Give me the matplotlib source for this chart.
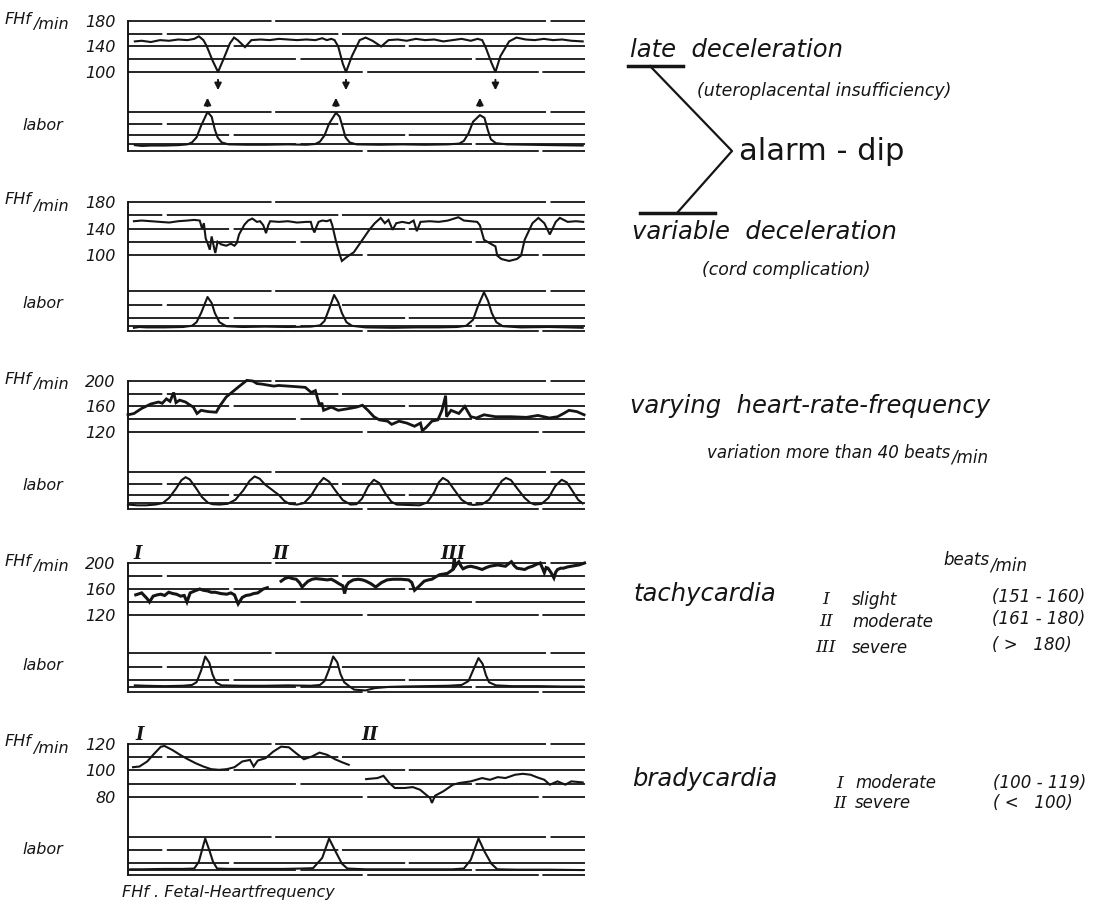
import matplotlib
matplotlib.use("Agg")
import matplotlib.pyplot as plt
from matplotlib import transforms

plt.rcParams['font.family'] = ['DejaVu Sans']

INK = '#151515'
W, H = 1098, 908
X0, X1 = 128, 585   # strip left / right edge (px)

# ---------------- traces: (time 0-100, value) ----------------
# late deceleration
fhf_late = [(1.5, 148), (3, 149), (5, 147), (7, 150), (9, 149), (11, 151), (13, 150), (14.5, 152),
            (15.5, 156), (16.5, 150), (17.2, 141), (18.5, 118), (19.7, 100), (21, 122), (22.3, 145),
            (23.2, 154), (24, 150), (25.6, 139), (27, 150), (29, 151), (31, 150), (33, 152), (35, 151),
            (37, 150), (39, 151), (41, 150), (42.5, 153), (43.5, 150), (44.5, 152), (45.2, 150),
            (46, 140), (47, 113), (47.7, 100), (49, 125), (50.7, 150), (52, 154), (53.5, 149),
            (55.4, 140), (57, 150), (59, 151), (61, 149), (63, 152), (65, 150), (67, 151), (69, 148),
            (71, 150), (73, 152), (75, 149), (76.5, 152), (77.5, 150), (78.3, 138), (79.5, 115),
            (80.4, 100), (81.5, 125), (83.4, 148), (85, 154), (87, 151), (89, 150), (91, 152),
            (93, 150), (95, 151), (97, 149), (99.5, 148)]
labor_late = [(1.5, 15), (3, 13), (5, 14), (8, 14), (11, 15), (13, 17), (14, 22), (15, 35), (16, 65),
              (17.4, 100), (18.3, 88), (19, 55), (19.6, 35), (20.5, 22), (22, 17), (26, 16), (30, 16),
              (35, 17), (39, 16), (41, 18), (42, 24), (43, 40), (44, 70), (45.5, 98), (46.3, 88),
              (47, 60), (47.6, 35), (48.5, 22), (50, 17), (55, 16), (60, 17), (65, 16), (70, 17),
              (72.5, 19), (73.5, 26), (74.5, 45), (75.5, 75), (77, 92), (78, 85), (78.7, 55),
              (79.4, 30), (80.5, 20), (83, 17), (88, 16), (93, 15), (99.5, 14)]

# variable deceleration
fhf_var = [(1.3, 151), (3, 152), (5, 151), (7, 150), (9, 149), (11, 151), (13, 152), (14.5, 153),
           (15.7, 152), (16.2, 140), (16.6, 148), (17.0, 125), (17.4, 118), (17.9, 108), (18.3, 128),
           (18.8, 112), (19.1, 103), (19.6, 120), (20.4, 116), (21.5, 114), (22.5, 117), (23.3, 114),
           (23.8, 118), (24.3, 131), (25.5, 146), (26.3, 152), (27.2, 155), (28.2, 150), (28.9, 151),
           (29.6, 145), (30.2, 133), (30.7, 145), (31.1, 151), (33, 150), (35, 151), (37, 149),
           (39, 150), (40.0, 150), (40.4, 140), (40.8, 134), (41.2, 142), (41.7, 150), (42.5, 152),
           (43.5, 151), (44.3, 153), (44.7, 145), (45.5, 121), (46.4, 99), (46.8, 91), (47.7, 96),
           (48.5, 100), (49.4, 104), (50.2, 112), (51.1, 121), (52.0, 130), (52.8, 138), (54.0, 148),
           (55.3, 156), (56.2, 148), (57.0, 153), (57.9, 138), (58.7, 148), (60, 150), (61.5, 148),
           (62.5, 152), (63.2, 136), (64, 150), (66, 151), (68, 150), (70, 152), (72.3, 157),
           (73.5, 152), (75, 151), (76.4, 150), (77.0, 145), (77.9, 123), (79.1, 118), (80.4, 113),
           (80.8, 99), (81.7, 94), (83.4, 91), (85.1, 94), (86.0, 99), (86.8, 123), (88.5, 148),
           (89.8, 156), (91.1, 148), (92.3, 131), (93.6, 150), (94.5, 156), (96.2, 150), (98, 151),
           (99.6, 150)]
labor_var = [(1.3, 8), (2.5, 10), (4, 9), (8, 9), (12, 10), (14, 13), (15, 22), (16, 45), (17.4, 85),
             (18.3, 70), (19, 45), (20, 22), (21.5, 12), (25, 10), (30, 11), (35, 10), (40, 11),
             (42, 14), (43, 25), (44, 55), (45.1, 90), (46, 72), (46.8, 45), (47.8, 22), (49, 13),
             (52, 9), (58, 8), (63, 9), (68, 9), (72, 10), (74, 13), (75.5, 28), (76.5, 60),
             (77.9, 97), (78.8, 75), (79.6, 45), (80.6, 22), (82, 12), (86, 9), (92, 10), (96, 9),
             (99.5, 8)]

# varying heart-rate-frequency
fhf_vary = [(0, 147), (1.3, 149), (3, 157), (5, 164), (6.7, 167), (7.5, 165), (8.4, 172), (9.2, 168),
            (10, 182), (10.5, 166), (11.3, 170), (12.6, 167), (13.4, 163), (14.3, 159), (15.1, 149),
            (16, 154), (17.5, 152), (19.3, 151), (20.2, 162), (21.5, 175), (22.7, 182), (24.4, 192),
            (26, 201), (27.3, 200), (28.2, 196), (29.4, 195), (31.9, 192), (33, 193), (35, 192),
            (37, 191), (38.8, 190), (40.1, 182), (41, 185), (41.5, 172), (42, 160), (42.4, 166),
            (42.8, 154), (44.5, 159), (46, 154), (48.5, 157), (50, 159), (51.3, 162), (52.5, 154),
            (53.8, 144), (55, 139), (56.8, 137), (57.7, 132), (59.3, 137), (61, 134), (62.7, 129),
            (64, 134), (64.4, 122), (65.2, 127), (66.5, 137), (67.8, 139), (68.7, 154), (69.5, 177),
            (69.7, 144), (70.7, 154), (72.4, 149), (73.7, 160), (75, 144), (76.2, 142), (77.9, 147),
            (80.4, 144), (83.8, 144), (87.2, 143), (89.7, 146), (92.2, 142), (94, 144), (95.3, 149),
            (96.5, 154), (98.2, 152), (99.8, 147)]
labor_vary = [(0, 12), (2, 10), (4, 10), (6, 12), (7.6, 16), (9, 30), (10.5, 55), (11.7, 78),
              (12.6, 86), (13.5, 80), (14.8, 58), (16.2, 32), (17.5, 17), (18.5, 13), (20, 12),
              (21.8, 14), (23.5, 25), (25.2, 50), (26.6, 76), (27.7, 88), (28.8, 82), (30, 66),
              (31.5, 52), (33, 38), (34.2, 22), (35.3, 14), (37, 12), (38.5, 16), (40, 35), (41.5, 65),
              (42.8, 84), (44, 74), (45.5, 48), (47, 24), (48.7, 12), (50, 13), (51.2, 28), (52.5, 60),
              (53.8, 79), (55, 70), (56.3, 42), (57.6, 20), (58.8, 12), (61, 11), (63.8, 10),
              (65.5, 18), (67, 45), (68, 72), (68.9, 84), (70, 76), (71.5, 50), (73, 25), (74.5, 13),
              (75.6, 11), (77.5, 13), (79, 25), (80.5, 52), (81.8, 76), (82.7, 84), (83.8, 78),
              (85.2, 55), (86.8, 30), (88, 17), (89, 12), (90.5, 14), (92, 30), (93.5, 62), (94.9, 79),
              (96, 72), (97.3, 48), (98.5, 25), (99.5, 15)]

# tachycardia, stage I, then II running into III
fhf_tachy_1 = [(1.7, 151), (3.0, 154), (4.2, 145), (4.7, 140), (5.5, 149), (6.4, 151), (7.2, 152),
               (8.0, 150), (8.9, 155), (9.8, 153), (10.6, 152), (11.5, 149), (12.3, 150), (12.9, 140),
               (13.6, 154), (14.6, 157), (15.7, 160), (16.5, 158), (17.4, 157), (18.2, 155),
               (19.1, 155), (20.3, 153), (21.6, 152), (22.5, 154), (23.3, 151), (24.1, 137),
               (25.0, 147), (25.8, 150), (26.7, 151), (27.5, 153), (28.4, 154), (29.6, 160),
               (30.5, 162)]
fhf_tachy_2 = [(33.5, 172), (34.3, 176), (35.1, 178), (36.0, 176), (36.8, 175), (37.5, 170),
               (38.1, 163), (38.8, 168), (39.4, 172), (40.3, 175), (41.1, 176), (42.4, 175),
               (43.6, 174), (44.5, 175), (45.3, 172), (46.2, 168), (47.0, 165), (47.4, 153),
               (47.8, 165), (48.3, 170), (49.3, 174), (50.4, 175), (51.3, 174), (52.1, 172),
               (53.2, 168), (54.2, 163), (55.5, 170), (56.7, 174), (58.0, 175), (59.7, 175),
               (61.4, 174), (62.1, 170), (62.7, 158), (63.5, 163), (64.8, 172), (65.7, 174),
               (66.5, 175), (67.4, 179), (68.2, 182), (69.9, 184), (71.1, 190), (71.4, 207),
               (71.6, 195), (72.0, 199), (72.4, 202), (72.8, 196), (73.3, 191), (74.2, 194),
               (75.0, 195), (76.2, 193), (77.5, 190), (78.4, 193), (79.2, 195), (80.0, 196),
               (80.9, 197), (81.7, 196), (82.6, 195), (83.3, 199), (83.9, 202), (84.5, 196),
               (85.1, 192), (86.0, 191), (86.8, 190), (87.6, 193), (88.5, 195), (89.4, 198),
               (90.2, 200), (90.7, 192), (91.1, 185), (91.5, 193), (91.9, 192), (92.5, 186),
               (93.2, 177), (93.6, 186), (94.0, 190), (94.7, 192), (95.3, 192), (96.2, 194),
               (97.0, 195), (97.8, 196), (98.7, 197), (99.9, 200)]
labor_tachy = [(1.5, 17), (4, 16), (8, 15), (12, 16), (14, 18), (15, 25), (16, 55), (16.9, 91),
               (17.8, 75), (18.5, 45), (19.3, 24), (20.5, 17), (25, 16), (30, 16), (35, 17), (40, 16),
               (42, 18), (43, 28), (44, 58), (44.9, 91), (45.8, 76), (46.5, 46), (47.3, 25),
               (48.5, 14), (49.5, 6), (52, 4), (54, 10), (57, 13), (60, 14), (65, 15), (70, 16),
               (73, 18), (74.5, 28), (75.6, 58), (76.7, 87), (77.6, 72), (78.3, 44), (79, 25),
               (80.5, 17), (84, 15), (90, 15), (95, 14), (99.5, 14)]

# bradycardia, stage I and stage II
fhf_brady_1 = [(1.1, 102.5), (2.5, 103), (4.2, 106.8), (5.5, 111.8), (7.2, 118), (8.0, 118.5),
               (9.7, 115.5), (11.4, 111.8), (13.1, 108.5), (14.8, 105.5), (16.5, 103), (18.2, 101),
               (19.9, 100.5), (21.6, 101), (23.3, 102.5), (25.0, 106.8), (26.7, 108), (27.5, 103),
               (28.4, 107.5), (30.1, 109.3), (31.8, 114.3), (33.5, 118), (35.2, 117.5), (36.8, 113),
               (38.5, 108.5), (40.2, 110.5), (41.9, 113.5), (43.6, 111.8), (45.3, 108.5), (47.0, 106),
               (48.3, 104.3)]
fhf_brady_2 = [(52.1, 93.5), (54.6, 94.3), (55.9, 96), (57.2, 90.5), (58.4, 86.8), (60.6, 86.8),
               (62.3, 87.5), (63.9, 85.5), (65.2, 81.8), (66.1, 79.3), (66.5, 75.5), (67.2, 81),
               (69.0, 84.3), (71.1, 89.3), (72.4, 90.5), (75.0, 91.8), (77.5, 94.3), (79.2, 93),
               (80.9, 95), (82.6, 94.3), (84.7, 96.8), (86.4, 97.5), (88.1, 96.8), (89.4, 95),
               (91.1, 93), (92.3, 89.3), (94.0, 91.8), (95.7, 89.3), (97.0, 91.8), (99.5, 91)]
labor_brady = [(0.5, 15), (3, 15), (8, 16), (12, 16), (14.5, 17), (15.5, 35), (16.3, 70), (16.9, 96),
               (17.8, 65), (18.6, 35), (19.5, 17), (22, 16), (28, 16), (34, 16), (38, 17), (40.5, 18),
               (42.5, 45), (44.0, 96), (45.5, 60), (46.8, 30), (48, 17), (52, 15), (58, 15), (65, 15),
               (71, 15), (73.5, 17), (75, 40), (76.7, 96), (78, 62), (79.5, 30), (80.8, 15), (85, 14),
               (92, 14), (99.5, 13)]

# strip layout: pixel rows of FHF strip and labor strip, axis range, labelled ticks
panels = [
    dict(fhf=(21, 72), lab=(112, 151), lim=(100, 180), ticks=[100, 140, 180],
         grid=[100, 120, 140, 160, 180], lgrid=[0, 19, 40, 69, 100],
         traces=[fhf_late], labor=labor_late, lw=1.5),
    dict(fhf=(202, 255), lab=(291, 331), lim=(100, 180), ticks=[100, 140, 180],
         grid=[100, 120, 140, 160, 180], lgrid=[0, 12, 32, 65, 100],
         traces=[fhf_var], labor=labor_var, lw=1.5),
    dict(fhf=(381, 432), lab=(472, 509), lim=(120, 200), ticks=[120, 160, 200],
         grid=[120, 140, 160, 180, 200], lgrid=[0, 16, 38, 68, 100],
         traces=[fhf_vary], labor=labor_vary, lw=2.0),
    dict(fhf=(563, 615), lab=(653, 692), lim=(120, 200), ticks=[120, 160, 200],
         grid=[120, 140, 160, 180, 200], lgrid=[0, 13, 31, 64, 100],
         traces=[fhf_tachy_1, fhf_tachy_2], labor=labor_tachy, lw=2.2),
    dict(fhf=(744, 797), lab=(837, 875), lim=(80, 120), ticks=[80, 100, 120],
         grid=[80, 90, 100, 110, 120], lgrid=[0, 13, 32, 66, 100],
         traces=[fhf_brady_1, fhf_brady_2], labor=labor_brady, lw=1.5),
]

# ruled lines of the recorder paper have a few small breaks
RULE_DASH = (150, 2.5, 95, 2)

fig = plt.figure(figsize=(W / 100, H / 100), dpi=100)
over = fig.add_axes([0, 0, 1, 1])
over.set_xlim(0, W)
over.set_ylim(H, 0)
over.axis('off')


def strip_axes(top, bottom, lim):
    ax = fig.add_axes([X0 / W, 1 - bottom / H, (X1 - X0) / W, (bottom - top) / H])
    ax.set_xlim(0, 100)
    ax.set_ylim(*lim)
    ax.patch.set_alpha(0)
    for s in ax.spines.values():
        s.set_visible(False)
    ax.set_xticks([])
    ax.set_yticks([])
    return ax


def rules(ax, levels):
    for i, g in enumerate(levels):
        ax.axhline(g, color=INK, lw=1.3, clip_on=False,
                   linestyle=(37 * i + 20, RULE_DASH))


def italic(x, y, s, size, **kw):
    kw.setdefault('va', 'center')
    return over.text(x, y, s, fontsize=size, fontstyle='italic', color=INK, **kw)


def with_unit(x, y, s, size, unit='/min', drop=5):
    # main text followed by a lowered "/min"
    t = italic(x, y, s, size)
    fig.canvas.draw()
    bb = t.get_window_extent(fig.canvas.get_renderer())
    x_end = over.transData.inverted().transform((bb.x1, bb.y0))[0]
    italic(x_end + 1, y + drop, unit, size)


fhf_axes = []
for p in panels:
    ft, fb = p['fhf']
    lt, lb = p['lab']
    ax = strip_axes(ft, fb, p['lim'])
    rules(ax, p['grid'])
    for tr in p['traces']:
        ax.plot([a for a, b in tr], [b for a, b in tr], color=INK, lw=p['lw'],
                solid_joinstyle='miter', clip_on=False)
    ax.set_yticks(p['ticks'])
    ax.set_yticklabels([str(v) for v in p['ticks']], fontstyle='italic', fontsize=11.5, color=INK)
    ax.tick_params(axis='y', length=0, pad=9)
    fhf_axes.append(ax)

    lax = strip_axes(lt, lb, (0, 100))
    rules(lax, p['lgrid'])
    lab = p['labor']
    lax.plot([a for a, b in lab], [b for a, b in lab], color=INK, lw=1.5, clip_on=False)

    # left edge running through both strips
    over.plot([X0, X0], [ft, lb], color=INK, lw=1.4)
    with_unit(5, ft - 2, 'FHf', 11.5, unit='/min', drop=6)
    italic(22, lt + 13, 'labor', 11.5)

# arrows linking the late dips to the contractions
ax1 = fhf_axes[0]
tr_dn = transforms.blended_transform_factory(ax1.transData, over.transData)
dips = [min(seg, key=lambda q: q[1])[0] for seg in
        (fhf_late[:20], fhf_late[20:45], fhf_late[45:])]
peaks = [max(seg, key=lambda q: q[1])[0] for seg in
         (labor_late[:15], labor_late[15:33], labor_late[33:])]
for t in dips:
    over.annotate('', xy=(t, 93), xytext=(t, 77), xycoords=tr_dn, textcoords=tr_dn,
                  arrowprops=dict(arrowstyle='-|>', color=INK, lw=1.4, mutation_scale=10))
for t in peaks:
    over.annotate('', xy=(t, 95), xytext=(t, 109), xycoords=tr_dn, textcoords=tr_dn,
                  arrowprops=dict(arrowstyle='-|>', color=INK, lw=1.4, mutation_scale=10))

# stage marks above tachycardia and bradycardia strips
roman = dict(fontsize=13, fontweight='bold', fontstyle='italic', family='DejaVu Serif',
             color=INK, ha='center', va='bottom')
tr4 = transforms.blended_transform_factory(fhf_axes[3].transData, over.transData)
for t, s in [(2.1, 'I'), (33.5, 'II'), (71.1, 'III')]:
    over.text(t, 563, s, transform=tr4, **roman)
tr5 = transforms.blended_transform_factory(fhf_axes[4].transData, over.transData)
for t, s in [(2.5, 'I'), (52.9, 'II')]:
    over.text(t, 744, s, transform=tr5, **roman)

# right hand explanations
BIG = 17.5
italic(630, 50, 'late  deceleration', BIG)
over.plot([628, 683], [66, 66], color=INK, lw=2.5)
italic(697, 91, '(uteroplacental insufficiency)', 12.5)
over.plot([650, 732, 677], [66, 151, 213], color=INK, lw=1.6)
over.plot([640, 715], [213, 213], color=INK, lw=2.5)
over.text(739, 152, 'alarm - dip', fontsize=22, color=INK, va='center')
italic(632, 232, 'variable  deceleration', BIG)
italic(702, 270, '(cord complication)', 12.5)

italic(630, 406, 'varying  heart-rate-frequency', BIG)
with_unit(707, 453, 'variation more than 40 beats', 12, drop=5)

with_unit(943, 560, 'beats', 12, drop=5)
italic(633, 594, 'tachycardia', BIG)
tachy_rows = [('I', 'slight', '(151 - 160)', 600),
              ('II', 'moderate', '(161 - 180)', 622),
              ('III', 'severe', '( >   180)', 648)]
for num, word, rng, y in tachy_rows:
    over.text(826, y, num, fontsize=12.5, fontstyle='italic', family='DejaVu Serif',
              color=INK, ha='center', va='center')
    italic(852, y, word, 12)
    italic(992, y - 3, rng, 12)

italic(632, 779, 'bradycardia', BIG)
brady_rows = [('I', 'moderate', '(100 - 119)', 783),
              ('II', 'severe', '( <   100)', 803)]
for num, word, rng, y in brady_rows:
    over.text(840, y, num, fontsize=12.5, fontstyle='italic', family='DejaVu Serif',
              color=INK, ha='center', va='center')
    italic(855, y, word, 12)
    italic(993, y, rng, 12)

italic(122, 893, 'FHf . Fetal-Heartfrequency', 11.5)

fig.savefig('out.png', dpi=100)
plt.close(fig)
